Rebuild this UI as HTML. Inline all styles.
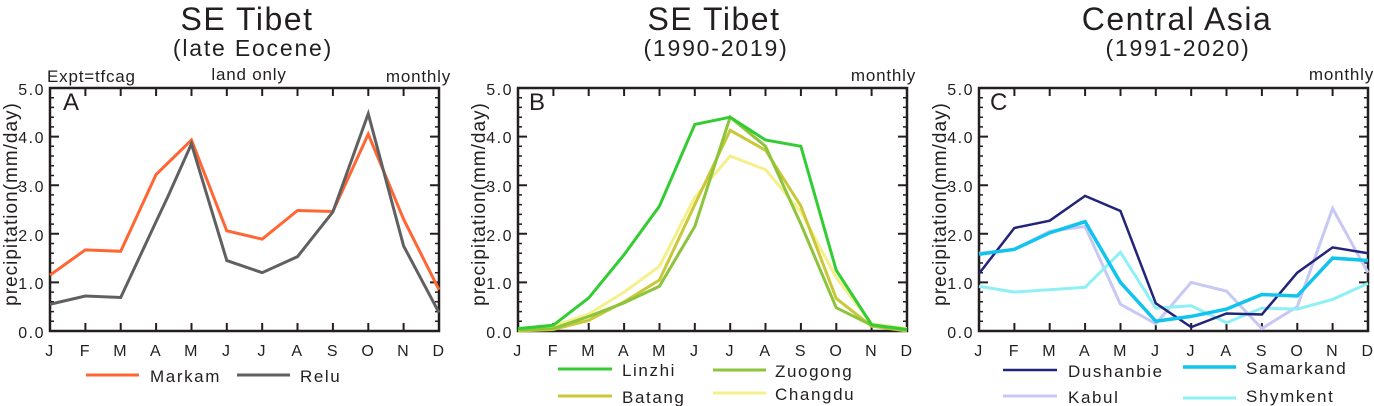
<!DOCTYPE html>
<html><head><meta charset="utf-8"><style>
body{margin:0;background:#fff}
svg{display:block;font-family:"Liberation Sans",Arial,sans-serif;fill:#231f20}
.t1{font-size:32px;letter-spacing:1.5px}.t2{font-size:23px;letter-spacing:1.8px}.sm{font-size:17px;letter-spacing:0.8px}.lg{font-size:17px;letter-spacing:1.6px}.tk{font-size:16px;letter-spacing:1.5px}.yl{font-size:19px;letter-spacing:1px}
</style></head><body>
<svg width="1374" height="406" viewBox="0 0 1374 406" xmlns="http://www.w3.org/2000/svg">
<defs>
<g id="axes">
 <rect x="0" y="0" width="389" height="243" fill="none" stroke="#231f20" stroke-width="2.5"/>
 <path stroke="#231f20" stroke-width="1.5" d="M0 9.7h4M0 19.4h4M0 29.2h4M0 38.9h4M0 58.3h4M0 68h4M0 77.8h4M0 87.5h4M0 106.9h4M0 116.6h4M0 126.4h4M0 136.1h4M0 155.5h4M0 165.2h4M0 175h4M0 184.7h4M0 204.1h4M0 213.8h4M0 223.6h4M0 233.3h4
 M389 9.7h-4M389 19.4h-4M389 29.2h-4M389 38.9h-4M389 58.3h-4M389 68h-4M389 77.8h-4M389 87.5h-4M389 106.9h-4M389 116.6h-4M389 126.4h-4M389 136.1h-4M389 155.5h-4M389 165.2h-4M389 175h-4M389 184.7h-4M389 204.1h-4M389 213.8h-4M389 223.6h-4M389 233.3h-4"/>
 <path stroke="#231f20" stroke-width="2" d="M0 48.6h9M0 97.2h9M0 145.8h9M0 194.4h9M389 48.6h-9M389 97.2h-9M389 145.8h-9M389 194.4h-9
 M35.4 0v8M70.7 0v8M106.1 0v8M141.5 0v8M176.8 0v8M212.2 0v8M247.5 0v8M282.9 0v8M318.3 0v8M353.6 0v8
 M35.4 243v-8M70.7 243v-8M106.1 243v-8M141.5 243v-8M176.8 243v-8M212.2 243v-8M247.5 243v-8M282.9 243v-8M318.3 243v-8M353.6 243v-8"/>
</g>
</defs>

<!-- Panel A -->
<text class="t1" x="247" y="30" text-anchor="middle">SE Tibet</text>
<text class="t2" x="253" y="56" text-anchor="middle">(late Eocene)</text>
<text class="sm" x="47" y="82">Expt=tfcag</text>
<text class="sm" x="249" y="80" text-anchor="middle">land only</text>
<text class="sm" x="451" y="82" text-anchor="end">monthly</text>
<g transform="translate(50,88)"><use href="#axes"/></g>
<text x="63" y="110" font-size="24">A</text>
<g class="tk" text-anchor="end"><text x="45" y="95">5.0</text><text x="45" y="143">4.0</text><text x="45" y="192">3.0</text><text x="45" y="241">2.0</text><text x="45" y="289">1.0</text><text x="45" y="338">0.0</text></g>
<text class="yl" transform="translate(17,204) rotate(-90)" text-anchor="middle">precipitation(mm/day)</text>
<g class="tk" text-anchor="middle"><text x="50" y="356">J</text><text x="85.4" y="356">F</text><text x="120.7" y="356">M</text><text x="156.1" y="356">A</text><text x="191.5" y="356">M</text><text x="226.8" y="356">J</text><text x="262.2" y="356">J</text><text x="297.5" y="356">A</text><text x="332.9" y="356">S</text><text x="368.3" y="356">O</text><text x="403.6" y="356">N</text><text x="439" y="356">D</text></g>
<g transform="translate(50,331) scale(35.36,-48.6)" fill="none">
<polyline vector-effect="non-scaling-stroke" stroke="#ff6633" stroke-width="3" points="0,1.15 1,1.67 2,1.64 3,3.22 4,3.93 5,2.06 6,1.89 7,2.48 8,2.46 9,4.05 10,2.3 11,0.85"/>
<polyline vector-effect="non-scaling-stroke" stroke="#606060" stroke-width="3" points="0,0.55 1,0.72 2,0.69 3,2.25 3.33,2.76 4,3.85 5,1.45 6,1.2 7,1.53 8,2.45 9,4.47 10,1.75 11,0.38"/>
</g>
<line x1="86" y1="375" x2="139" y2="375" stroke="#ff6633" stroke-width="3"/><text class="lg" x="150" y="382">Markam</text>
<line x1="237" y1="375" x2="290" y2="375" stroke="#606060" stroke-width="3"/><text class="lg" x="300" y="382">Relu</text>

<!-- Panel B -->
<text class="t1" x="714" y="30" text-anchor="middle">SE Tibet</text>
<text class="t2" x="716" y="56" text-anchor="middle">(1990-2019)</text>
<text class="sm" x="916" y="81" text-anchor="end">monthly</text>
<g transform="translate(518,88)"><use href="#axes"/></g>
<text x="529" y="110" font-size="24">B</text>
<g class="tk" text-anchor="end"><text x="513" y="95">5.0</text><text x="513" y="143">4.0</text><text x="513" y="192">3.0</text><text x="513" y="241">2.0</text><text x="513" y="289">1.0</text><text x="513" y="338">0.0</text></g>
<text class="yl" transform="translate(485,204) rotate(-90)" text-anchor="middle">precipitation(mm/day)</text>
<g class="tk" text-anchor="middle"><text x="518" y="356">J</text><text x="553.4" y="356">F</text><text x="588.7" y="356">M</text><text x="624.1" y="356">A</text><text x="659.5" y="356">M</text><text x="694.8" y="356">J</text><text x="730.2" y="356">J</text><text x="765.5" y="356">A</text><text x="800.9" y="356">S</text><text x="836.3" y="356">O</text><text x="871.6" y="356">N</text><text x="907" y="356">D</text></g>
<g transform="translate(518,331) scale(35.36,-48.6)" fill="none">
<polyline vector-effect="non-scaling-stroke" stroke="#f5f08a" stroke-width="3" points="0,0 1,0.1 2,0.35 3,0.8 4,1.33 5,2.75 6,3.6 7,3.32 8,2.45 9,1.1 10,0.15 11,0.05"/>
<polyline vector-effect="non-scaling-stroke" stroke="#c8c83a" stroke-width="3" points="0,0 1,0.03 2,0.22 3,0.6 4,1.05 5,2.6 6,4.13 7,3.72 8,2.57 9,0.67 10,0.1 11,0"/>
<polyline vector-effect="non-scaling-stroke" stroke="#8cc43c" stroke-width="3" points="0,0.02 1,0.05 2,0.3 3,0.58 4,0.92 5,2.15 6,4.4 7,3.8 8,2.2 9,0.48 10,0.12 11,0.02"/>
<polyline vector-effect="non-scaling-stroke" stroke="#33cc33" stroke-width="3" points="0,0.05 1,0.12 2,0.68 3,1.57 4,2.57 5,4.25 6,4.4 7,3.93 8,3.8 9,1.25 10,0.13 11,0.03"/>
</g>
<line x1="558" y1="369" x2="612" y2="369" stroke="#33cc33" stroke-width="3"/><text class="lg" x="622" y="376">Linzhi</text>
<line x1="713" y1="370" x2="766" y2="370" stroke="#8cc43c" stroke-width="3"/><text class="lg" x="775" y="377">Zuogong</text>
<line x1="558" y1="396" x2="612" y2="396" stroke="#c8c83a" stroke-width="3"/><text class="lg" x="622" y="403">Batang</text>
<line x1="713" y1="393" x2="766" y2="393" stroke="#f5f08a" stroke-width="3"/><text class="lg" x="775" y="400">Changdu</text>

<!-- Panel C -->
<text class="t1" x="1177" y="30" text-anchor="middle">Central Asia</text>
<text class="t2" x="1178" y="56" text-anchor="middle">(1991-2020)</text>
<text class="sm" x="1374" y="80" text-anchor="end">monthly</text>
<g transform="translate(979,88)"><use href="#axes"/></g>
<text x="990" y="110" font-size="24">C</text>
<g class="tk" text-anchor="end"><text x="974" y="95">5.0</text><text x="974" y="143">4.0</text><text x="974" y="192">3.0</text><text x="974" y="241">2.0</text><text x="974" y="289">1.0</text><text x="974" y="338">0.0</text></g>
<text class="yl" transform="translate(946,204) rotate(-90)" text-anchor="middle">precipitation(mm/day)</text>
<g class="tk" text-anchor="middle"><text x="979" y="356">J</text><text x="1014.4" y="356">F</text><text x="1049.7" y="356">M</text><text x="1085.1" y="356">A</text><text x="1120.5" y="356">M</text><text x="1155.8" y="356">J</text><text x="1191.2" y="356">J</text><text x="1226.5" y="356">A</text><text x="1261.9" y="356">S</text><text x="1297.3" y="356">O</text><text x="1332.6" y="356">N</text><text x="1368" y="356">D</text></g>
<g transform="translate(979,331) scale(35.36,-48.6)" fill="none">
<polyline vector-effect="non-scaling-stroke" stroke="#c8c8f5" stroke-width="3" points="0,1.6 1,1.68 2,2.05 3,2.15 4,0.55 5,0.15 6,1.0 7,0.82 8,0.05 9,0.5 10,2.52 11,1.2"/>
<polyline vector-effect="non-scaling-stroke" stroke="#8ef0f5" stroke-width="3" points="0,0.92 1,0.8 2,0.85 3,0.9 4,1.62 5,0.47 6,0.52 7,0.17 8,0.47 9,0.45 10,0.65 11,0.98"/>
<polyline vector-effect="non-scaling-stroke" stroke="#23237a" stroke-width="2.5" points="0,1.18 1,2.12 2,2.27 3,2.78 4,2.47 5,0.57 6,0.08 7,0.36 8,0.34 9,1.2 10,1.72 11,1.6"/>
<polyline vector-effect="non-scaling-stroke" stroke="#11c4ee" stroke-width="3.5" points="0,1.58 1,1.68 2,2.02 3,2.25 4,1.0 5,0.2 6,0.3 7,0.45 8,0.75 9,0.72 10,1.5 11,1.45"/>
</g>
<line x1="1003" y1="370" x2="1057" y2="370" stroke="#23237a" stroke-width="2.5"/><text class="lg" x="1068" y="377">Dushanbie</text>
<line x1="1183" y1="367" x2="1236" y2="367" stroke="#11c4ee" stroke-width="3.5"/><text class="lg" x="1246" y="374">Samarkand</text>
<line x1="1003" y1="396" x2="1057" y2="396" stroke="#c8c8f5" stroke-width="3"/><text class="lg" x="1068" y="403">Kabul</text>
<line x1="1183" y1="398" x2="1236" y2="398" stroke="#8ef0f5" stroke-width="3"/><text class="lg" x="1246" y="402">Shymkent</text>
</svg>
</body></html>
